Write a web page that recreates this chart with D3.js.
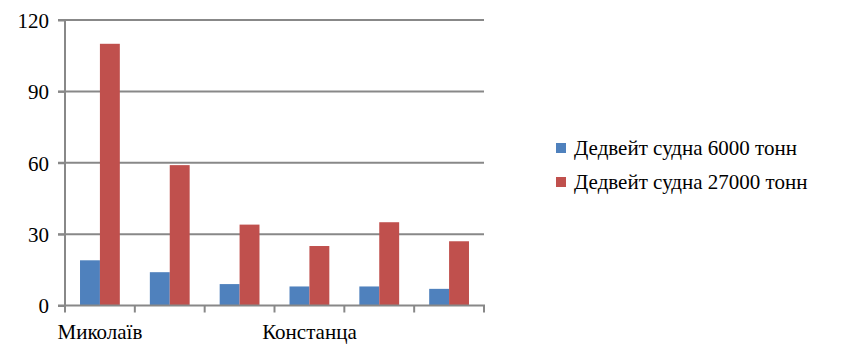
<!DOCTYPE html>
<html><head><meta charset="utf-8">
<script src="https://cdn.jsdelivr.net/npm/d3@7"></script>
</head><body style="margin:0">
<script>
const categories = ["Миколаїв", "", "", "Констанца", "", ""];
const seriesNames = ["Дедвейт судна 6000 тонн", "Дедвейт судна 27000 тонн"];
const series6000 = [19, 14, 9, 8, 8, 7];
const series27000 = [110, 59, 34, 25, 35, 27];
const yTicks = [0, 30, 60, 90, 120];
const colors = ["#4f81bd", "#c0504d"];

const W = 844, H = 345;
const svg = d3.select("body").append("svg").attr("width", W).attr("height", H)
  .attr("font-family", "Times New Roman").attr("font-size", 21);

const x = d3.scaleBand().domain(d3.range(categories.length)).range([65, 484]).paddingInner(0).paddingOuter(0);
const y = d3.scaleLinear().domain([0, 120]).range([305.5, 20]);
const bw = x.bandwidth();
const xs = d3.scaleBand().domain([0, 1]).range([bw * 0.215, bw * 0.785]);

const gridColor = "#888888";
svg.append("g").selectAll("line").data(yTicks.slice(1)).join("line")
  .attr("x1", 58).attr("x2", 484).attr("y1", d => y(d)).attr("y2", d => y(d))
  .attr("stroke", gridColor).attr("stroke-width", 2);

const data = [series6000, series27000];
const g = svg.append("g");
data.forEach((s, si) => {
  g.selectAll(null).data(s).join("rect")
    .attr("x", (d, i) => x(i) + xs(si))
    .attr("width", xs.bandwidth())
    .attr("y", d => y(d))
    .attr("height", d => y(0) - y(d))
    .attr("fill", colors[si]);
});

const yAxis = d3.axisLeft(y).tickValues(yTicks).tickSize(7).tickPadding(9);
const ya = svg.append("g").attr("transform", "translate(65,0)").call(yAxis);
ya.attr("font-family", null).attr("font-size", null);
ya.select(".domain").attr("stroke", gridColor).attr("stroke-width", 2).attr("d", `M0,${y(120)}V${y(0)}`);
ya.selectAll(".tick line").attr("stroke", gridColor).attr("stroke-width", 2);
ya.selectAll(".tick text").attr("fill", "#000").attr("dy", "0.35em");

const xa = svg.append("g").attr("transform", `translate(0,${y(0)})`);
xa.append("line").attr("x1", 58).attr("x2", 485).attr("y1", 0).attr("y2", 0).attr("stroke", gridColor).attr("stroke-width", 2);
const tickPos = d3.range(categories.length + 1).map(i => i < categories.length ? x(i) : x.range()[1]);
xa.selectAll("line.t").data(tickPos).join("line").attr("class", "t")
  .attr("x1", d => d).attr("x2", d => d).attr("y1", 0).attr("y2", 7)
  .attr("stroke", gridColor).attr("stroke-width", 2);
xa.selectAll("text").data(categories).join("text")
  .attr("x", (d, i) => x(i) + x.bandwidth() / 2).attr("y", 33)
  .attr("text-anchor", "middle").attr("fill", "#000")
  .text(d => d);

const lg = svg.append("g").attr("transform", "translate(556,0)");
lg.selectAll("rect").data(seriesNames).join("rect")
  .attr("x", 0).attr("y", (d, i) => 143 + i * 34).attr("width", 10).attr("height", 10)
  .attr("fill", (d, i) => colors[i]);
lg.selectAll("text").data(seriesNames).join("text")
  .attr("x", 18).attr("y", (d, i) => 148 + i * 34).attr("dy", "0.35em")
  .attr("fill", "#000").text(d => d);
</script>
</body></html>
